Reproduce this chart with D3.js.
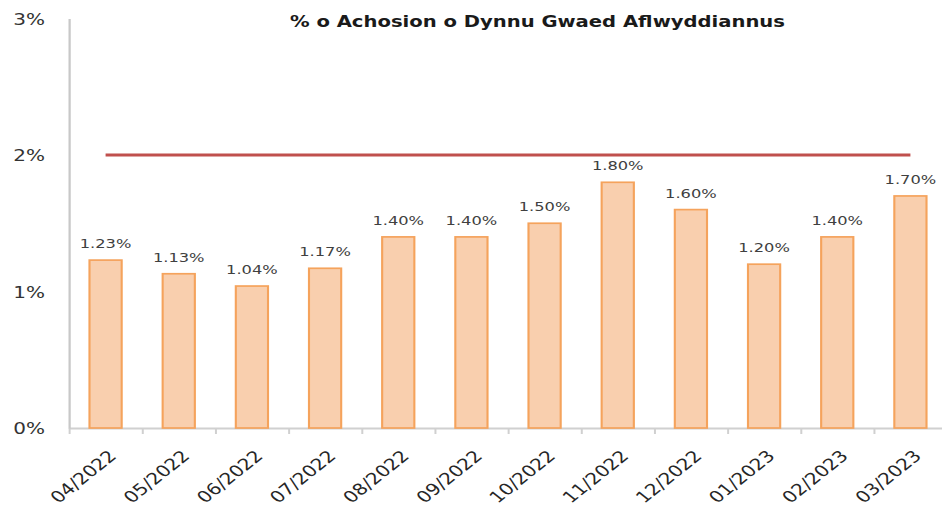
<!DOCTYPE html>
<html>
<head>
<meta charset="utf-8">
<script src="https://cdn.jsdelivr.net/npm/d3@7"></script>
<style>
  body { margin: 0; background: #ffffff; }
  text { font-family: "DejaVu Sans", Verdana, sans-serif; }
</style>
</head>
<body>
<div id="vis"></div>
<script>
// chart data
const months = ["04/2022", "05/2022", "06/2022", "07/2022", "08/2022", "09/2022",
                "10/2022", "11/2022", "12/2022", "01/2023", "02/2023", "03/2023"];
const rates = [1.23, 1.13, 1.04, 1.17, 1.40, 1.40, 1.50, 1.80, 1.60, 1.20, 1.40, 1.70];
const target = [2, 2, 2, 2, 2, 2, 2, 2, 2, 2, 2, 2];
const yTicks = [0, 1, 2, 3];
const title = "% o Achosion o Dynnu Gwaed Aflwyddiannus";

const FRAME_WIDTH = 942;
const FRAME_HEIGHT = 508;
// the original picture is stretched sideways, so draw in a narrower viewBox
const SX = 1.25;
const VB_WIDTH = FRAME_WIDTH / SX;

const svg = d3.select("#vis")
  .append("svg")
    .attr("width", FRAME_WIDTH)
    .attr("height", FRAME_HEIGHT)
    .attr("viewBox", `0 0 ${VB_WIDTH} ${FRAME_HEIGHT}`)
    .attr("preserveAspectRatio", "none");

const X_LEFT = 69 / SX;
const X_RIGHT = 947 / SX;

const X_SCALE = d3.scaleBand()
  .domain(months)
  .range([X_LEFT, X_RIGHT])
  .paddingInner(0.56)
  .paddingOuter(0.28);

const Y_SCALE = d3.scaleLinear()
  .domain([0, 3])
  .range([428, 18.5]);

// boundary ticks along the x axis
const X_EDGES = d3.scaleLinear()
  .domain([0, months.length])
  .range([X_LEFT, X_RIGHT]);

const xAxis = svg.append("g")
  .attr("transform", `translate(0,${Y_SCALE(0)})`)
  .call(d3.axisBottom(X_EDGES).ticks(months.length).tickFormat("").tickSize(6).tickSizeOuter(0));
xAxis.select(".domain").attr("stroke", "#d0d0d0").attr("stroke-width", 2);
xAxis.selectAll(".tick line").attr("stroke", "#d0d0d0").attr("stroke-width", 1.6);

// y axis
const yAxis = svg.append("g")
  .attr("transform", `translate(${X_LEFT},0)`)
  .call(d3.axisLeft(Y_SCALE).tickValues(yTicks).tickSize(0).tickSizeOuter(0)
        .tickFormat(d => d + "%"));
yAxis.select(".domain").attr("stroke", "#c8c8c8").attr("stroke-width", 1.8);
yAxis.selectAll(".tick text")
  .attr("x", 45 / SX - X_LEFT)
  .attr("dy", "0.36em")
  .attr("font-size", 16)
  .attr("fill", "#333333");

// bars
svg.selectAll(".bar")
  .data(rates)
  .enter()
  .append("rect")
    .attr("class", "bar")
    .attr("x", (d, i) => X_SCALE(months[i]))
    .attr("y", d => Y_SCALE(d))
    .attr("width", X_SCALE.bandwidth())
    .attr("height", d => Y_SCALE(0) - Y_SCALE(d))
    .attr("fill", "#f9cfae")
    .attr("stroke", "#f5a35c")
    .attr("stroke-width", 1.7);

// value labels
svg.selectAll(".value")
  .data(rates)
  .enter()
  .append("text")
    .attr("class", "value")
    .attr("x", (d, i) => X_SCALE(months[i]) + X_SCALE.bandwidth() / 2)
    .attr("y", d => Y_SCALE(d) - 12)
    .attr("text-anchor", "middle")
    .attr("font-size", 13)
    .attr("fill", "#404040")
    .text(d => d.toFixed(2) + "%");

// target line
const line = d3.line()
  .x((d, i) => X_SCALE(months[i]) + X_SCALE.bandwidth() / 2)
  .y(d => Y_SCALE(d));

svg.append("path")
  .datum(target)
  .attr("d", line)
  .attr("fill", "none")
  .attr("stroke", "#c0504d")
  .attr("stroke-width", 3);

// month labels, rotated
svg.selectAll(".month")
  .data(months)
  .enter()
  .append("text")
    .attr("class", "month")
    .attr("transform", d => `translate(${X_SCALE(d) + X_SCALE.bandwidth() / 2 + 12 / SX},${457}) rotate(-45)`)
    .attr("text-anchor", "end")
    .attr("font-size", 16)
    .attr("fill", "#262626")
    .text(d => d);

// title
svg.append("text")
  .attr("x", 537.5 / SX)
  .attr("y", 27)
  .attr("text-anchor", "middle")
  .attr("font-size", 16)
  .attr("font-weight", "bold")
  .attr("fill", "#1a1a1a")
  .attr("textLength", 495 / SX)
  .attr("lengthAdjust", "spacingAndGlyphs")
  .text(title);
</script>
</body>
</html>
